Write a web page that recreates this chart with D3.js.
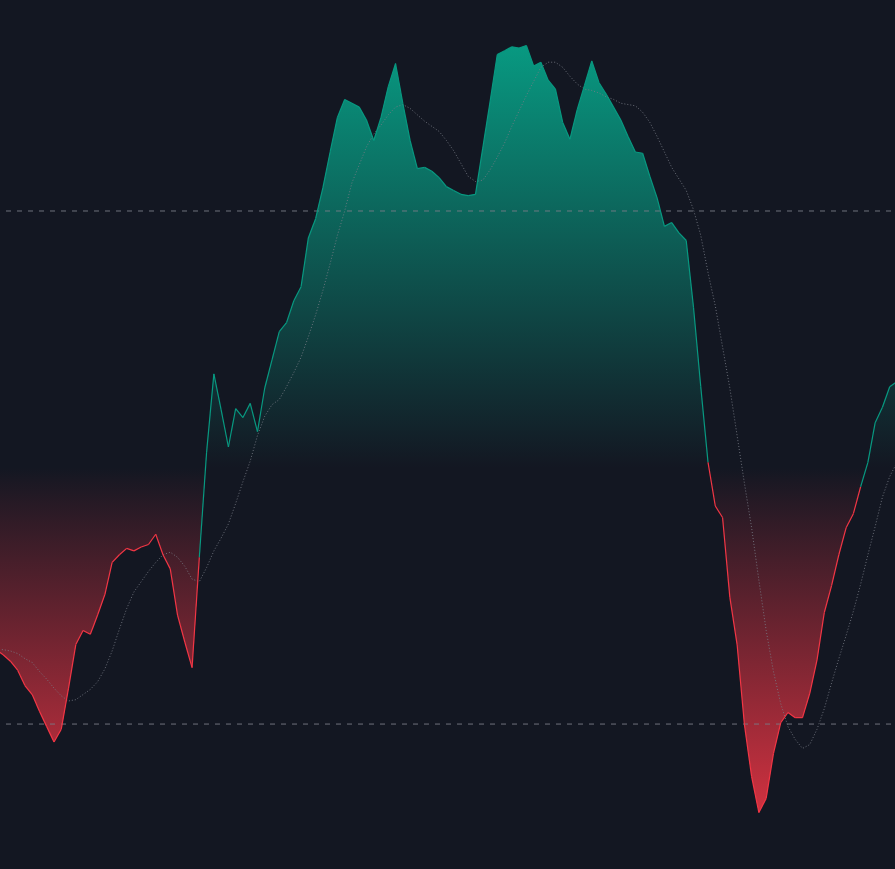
<!DOCTYPE html>
<html>
<head>
<meta charset="utf-8">
<script src="https://cdn.jsdelivr.net/npm/d3@7"></script>
<style>
  html, body { margin: 0; padding: 0; background: #131722; }
  svg { display: block; }
</style>
</head>
<body>
<div id="chart"></div>
<script>
// ---- data ----
// Oscillator values, one per bar (bar -1 .. 123)
const oscillator = [
  -1.42, -1.46, -1.51, -1.58, -1.70, -1.77, -1.90, -2.02, -2.14, -2.04,
  -1.72, -1.38, -1.27, -1.30, -1.15, -0.99, -0.74, -0.68, -0.63, -0.65,
  -0.62, -0.60, -0.52, -0.68, -0.79, -1.15, -1.36, -1.56, -0.70, 0.12,
  0.73, 0.45, 0.16, 0.46, 0.39, 0.50, 0.28, 0.62, 0.84, 1.06,
  1.13, 1.30, 1.41, 1.79, 1.94, 2.18, 2.46, 2.73, 2.87, 2.84,
  2.81, 2.71, 2.55, 2.73, 2.97, 3.15, 2.84, 2.55, 2.33, 2.34,
  2.31, 2.26, 2.19, 2.16, 2.13, 2.12, 2.13, 2.49, 2.85, 3.22,
  3.25, 3.28, 3.27, 3.29, 3.13, 3.16, 3.02, 2.95, 2.69, 2.56,
  2.79, 2.98, 3.17, 3.00, 2.91, 2.81, 2.71, 2.58, 2.46, 2.45,
  2.27, 2.10, 1.88, 1.91, 1.83, 1.77, 1.25, 0.63, 0.04, -0.30,
  -0.39, -1.01, -1.38, -2.00, -2.41, -2.69, -2.58, -2.23, -1.99, -1.91,
  -1.95, -1.95, -1.76, -1.50, -1.13, -0.92, -0.68, -0.47, -0.36, -0.15,
  0.04, 0.35, 0.47, 0.63, 0.67
];
// Signal (moving average) values, same bars
const signal = [
  -1.42, -1.42, -1.43, -1.45, -1.49, -1.52, -1.59, -1.65, -1.72, -1.78,
  -1.82, -1.81, -1.77, -1.73, -1.67, -1.57, -1.43, -1.26, -1.10, -0.97,
  -0.89, -0.81, -0.74, -0.68, -0.66, -0.70, -0.77, -0.87, -0.89, -0.78,
  -0.65, -0.55, -0.44, -0.28, -0.11, 0.05, 0.25, 0.40, 0.49, 0.53,
  0.63, 0.74, 0.86, 1.02, 1.19, 1.38, 1.59, 1.81, 2.00, 2.22,
  2.36, 2.50, 2.60, 2.67, 2.75, 2.81, 2.83, 2.80, 2.75, 2.70,
  2.66, 2.62, 2.55, 2.47, 2.37, 2.27, 2.23, 2.24, 2.32, 2.42,
  2.53, 2.66, 2.78, 2.90, 3.01, 3.12, 3.16, 3.16, 3.12, 3.05,
  2.99, 2.95, 2.94, 2.92, 2.89, 2.87, 2.84, 2.83, 2.82, 2.77,
  2.69, 2.58, 2.46, 2.34, 2.25, 2.16, 2.01, 1.81, 1.52, 1.26,
  0.94, 0.62, 0.25, -0.12, -0.47, -0.88, -1.27, -1.59, -1.84, -2.02,
  -2.12, -2.19, -2.16, -2.04, -1.88, -1.68, -1.49, -1.31, -1.12, -0.91,
  -0.68, -0.46, -0.23, -0.07, 0.04
];
const levels = [2, -2];
const zeroLevel = 0;

// ---- layout ----
const W = 895, H = 869;
const colors = { bg: "#131722", up: "#089981", down: "#F23645", level: "#787B86", signal: "#787B86" };

const svg = d3.select("#chart").append("svg")
  .attr("width", W).attr("height", H)
  .style("background", colors.bg);

const n = oscillator.length;
const x = d3.scaleLinear().domain([0, n - 1]).range([-4.14, 896.97]);
const y = d3.scaleLinear().domain([-3.13, 3.645]).range([H, 0]);

const defs = svg.append("defs");
const vMax = d3.max(oscillator), vMin = d3.min(oscillator);

const gUp = defs.append("linearGradient").attr("id", "gUp")
  .attr("gradientUnits", "userSpaceOnUse")
  .attr("x1", 0).attr("x2", 0).attr("y1", y(vMax)).attr("y2", y(zeroLevel));
gUp.append("stop").attr("offset", 0).attr("stop-color", colors.up).attr("stop-opacity", 1);
gUp.append("stop").attr("offset", 1).attr("stop-color", colors.up).attr("stop-opacity", 0);

const gDn = defs.append("linearGradient").attr("id", "gDn")
  .attr("gradientUnits", "userSpaceOnUse")
  .attr("x1", 0).attr("x2", 0).attr("y1", y(zeroLevel)).attr("y2", y(vMin));
gDn.append("stop").attr("offset", 0).attr("stop-color", colors.down).attr("stop-opacity", 0);
gDn.append("stop").attr("offset", 1).attr("stop-color", colors.down).attr("stop-opacity", 0.85);

defs.append("clipPath").attr("id", "clipUp").append("rect")
  .attr("x", 0).attr("y", 0).attr("width", W).attr("height", y(zeroLevel));
defs.append("clipPath").attr("id", "clipDn").append("rect")
  .attr("x", 0).attr("y", y(zeroLevel)).attr("width", W).attr("height", H - y(zeroLevel));

const area = d3.area()
  .x((d, i) => x(i))
  .y0(y(zeroLevel))
  .y1(d => y(d));

svg.append("path").datum(oscillator)
  .attr("d", area).attr("fill", "url(#gUp)").attr("clip-path", "url(#clipUp)");
svg.append("path").datum(oscillator)
  .attr("d", area).attr("fill", "url(#gDn)").attr("clip-path", "url(#clipDn)");

// level lines
svg.selectAll("line.level").data(levels).enter().append("line")
  .attr("class", "level")
  .attr("x1", 0).attr("x2", W)
  .attr("y1", d => y(d)).attr("y2", d => y(d))
  .attr("stroke", colors.level).attr("stroke-width", 1)
  .attr("stroke-dasharray", "5,6").attr("stroke-dashoffset", 5)
  .attr("opacity", 0.9);

// signal line (dotted)
const line = d3.line().x(d => x(d[0])).y(d => y(d[1]));
svg.append("path")
  .datum(signal.map((v, i) => [i, v]))
  .attr("d", line)
  .attr("fill", "none")
  .attr("stroke", colors.signal)
  .attr("stroke-width", 1)
  .attr("stroke-dasharray", "1,2")
  .attr("opacity", 0.85);

// oscillator line, segment colour by sign of the segment's end bar
const segs = d3.range(1, n).map(i => [[i - 1, oscillator[i - 1]], [i, oscillator[i]]]);
svg.selectAll("path.seg").data(segs).enter().append("path")
  .attr("class", "seg")
  .attr("d", line)
  .attr("fill", "none")
  .attr("stroke", d => d[1][1] >= zeroLevel ? colors.up : colors.down)
  .attr("stroke-width", 1.2)
  .attr("stroke-linejoin", "round");
</script>
</body>
</html>
